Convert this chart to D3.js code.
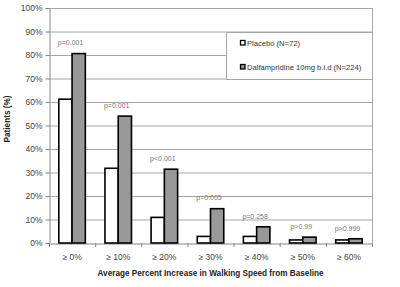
<!DOCTYPE html>
<html><head><meta charset="utf-8">
<script src="https://cdn.jsdelivr.net/npm/d3@7"></script>
<style>
html,body{margin:0;padding:0;background:#fff;}
svg{display:block;font-family:"Liberation Sans",Arial,sans-serif;}
</style></head>
<body><svg id="c" width="400" height="287"></svg>
<script>
const categories = ["≥ 0%", "≥ 10%", "≥ 20%", "≥ 30%", "≥ 40%", "≥ 50%", "≥ 60%"];
const placebo = [61.2, 31.8, 10.9, 2.8, 2.8, 1.3, 1.3];
const dalfampridine = [80.6, 54.0, 31.4, 14.6, 6.9, 2.5, 1.8];
const pValues = ["p=0.001", "p=0.001", "p<0.001", "p=0.005", "p=0.258", "p>0.99", "p>0.999"];
const seriesNames = ["Placebo (N=72)", "Dalfampridine 10mg b.i.d (N=224)"];
const yTicks = [0,10,20,30,40,50,60,70,80,90,100];

const svg = d3.select("#c");
const m = {l:49, r:28, t:8, b:44};
const W = 400, H = 287;
const x = d3.scaleBand().domain(categories).range([m.l, W - m.r]).paddingInner(0).paddingOuter(0);
const x1 = d3.scaleBand().domain([0,1]).range([0, x.bandwidth()]).paddingOuter(0.74).paddingInner(0);
const y = d3.scaleLinear().domain([0,100]).range([H - m.b, m.t]);

// gridlines
svg.append("g").selectAll("line").data(yTicks.filter(d=>d>0)).join("line")
  .attr("x1", m.l).attr("x2", W - m.r)
  .attr("y1", d=>y(d)+0.5).attr("y2", d=>y(d)+0.5)
  .attr("stroke", "#a6a6a6").attr("stroke-width", 1);
// right border
svg.append("line").attr("x1", W-m.r+0.5).attr("x2", W-m.r+0.5).attr("y1", m.t).attr("y2", y(0))
  .attr("stroke", "#a6a6a6");

// y axis
const ya = svg.append("g").attr("transform", `translate(${m.l+0.5},0)`)
  .call(d3.axisLeft(y).tickValues(yTicks).tickFormat(d=>d+"%").tickSize(4).tickPadding(3));
ya.select(".domain").attr("stroke", "#888");
ya.selectAll(".tick line").attr("stroke", "#888");
ya.selectAll("text").attr("font-size", 8.5).attr("fill", "#444").attr("font-family", "Liberation Sans, Arial, sans-serif");

// x axis
const xa = svg.append("g").attr("transform", `translate(0,${y(0)+0.5})`)
  .call(d3.axisBottom(x).tickSize(0).tickPadding(10));
xa.select(".domain").attr("stroke", "#888");
xa.selectAll("text").attr("font-size", 8.5).attr("fill", "#444").attr("font-family", "Liberation Sans, Arial, sans-serif");
// boundary ticks
svg.append("g").selectAll("line").data(d3.range(categories.length+1)).join("line")
  .attr("x1", i => m.l + i*x.step() + 0.5).attr("x2", i => m.l + i*x.step() + 0.5)
  .attr("y1", y(0)).attr("y2", y(0)+4).attr("stroke", "#888");

// legend
const lg = svg.append("g");
lg.append("rect").attr("x", 226.5).attr("y", 32.5).attr("width", W - m.r - 226).attr("height", 47)
  .attr("fill", "#fff").attr("stroke", "#a6a6a6");
const fills = ["#ffffff", "#999999"];
seriesNames.forEach((s,i) => {
  const yy = 43 + i*24;
  lg.append("rect").attr("x", 240.5).attr("y", yy-2.5).attr("width", 4.5).attr("height", 4.5)
    .attr("fill", fills[i]).attr("stroke", "#000").attr("stroke-width", 1.3);
  lg.append("text").attr("x", 247).attr("y", yy+2.8).attr("font-size", 7.6).attr("fill", "#333").text(s);
});

// bars
const groups = svg.append("g").selectAll("g").data(categories).join("g")
  .attr("transform", d => `translate(${x(d)},0)`);
groups.append("rect").attr("x", x1(0)).attr("width", x1.bandwidth())
  .attr("y", (d,i)=>y(placebo[i])).attr("height", (d,i)=>y(0)-y(placebo[i]))
  .attr("fill", "#fff").attr("stroke", "#000").attr("stroke-width", 1.6);
groups.append("rect").attr("x", x1(1)).attr("width", x1.bandwidth())
  .attr("y", (d,i)=>y(dalfampridine[i])).attr("height", (d,i)=>y(0)-y(dalfampridine[i]))
  .attr("fill", "#999999").attr("stroke", "#000").attr("stroke-width", 1.6);
groups.append("text").attr("x", x.bandwidth()/2 - 1.5)
  .attr("y", (d,i)=>y(dalfampridine[i] + 3.5))
  .attr("text-anchor", "middle").attr("font-size", 7).attr("fill", "#777")
  .text((d,i)=>pValues[i]);

// titles
svg.append("text").attr("x", (m.l + W - m.r)/2).attr("y", 276).attr("text-anchor", "middle")
  .attr("font-size", 8.2).attr("font-weight", "bold").attr("fill", "#222")
  .text("Average Percent Increase in Walking Speed from Baseline");
svg.append("text").attr("transform", "translate(10,119) rotate(-90)").attr("text-anchor", "middle")
  .attr("font-size", 8.2).attr("font-weight", "bold").attr("fill", "#222")
  .text("Patients (%)");
</script></body></html>
